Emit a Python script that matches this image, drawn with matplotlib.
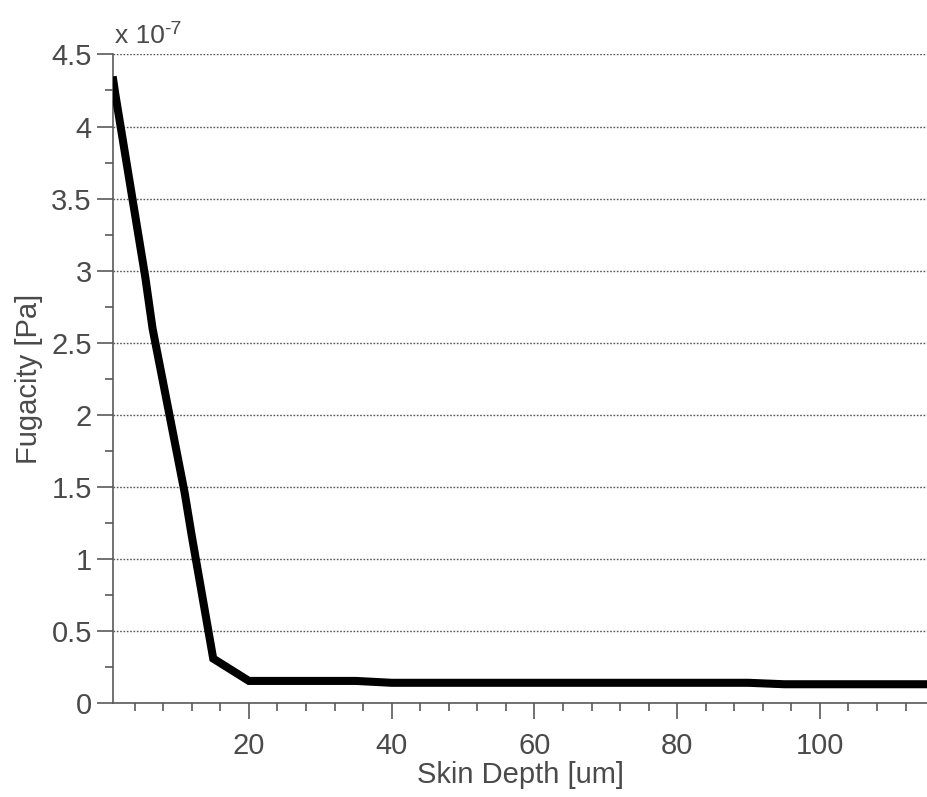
import matplotlib
matplotlib.use("Agg")
import matplotlib.pyplot as plt
from matplotlib.ticker import MultipleLocator, FormatStrFormatter

# ---- data (fugacity in units of 1e-7 Pa) ------------------------------
depth_um = [1, 1.3, 5.5, 6.5, 11, 12, 15, 20, 35, 40, 90, 95, 115]
fugacity_e7 = [4.32, 4.22, 2.95, 2.60, 1.46, 1.16, 0.31, 0.155, 0.155,
               0.142, 0.142, 0.132, 0.132]

y_ticks = [0, 0.5, 1, 1.5, 2, 2.5, 3, 3.5, 4, 4.5]
x_ticks = [20, 40, 60, 80, 100]

TXT = "#4a4a4a"
AXC = "#5a5a5a"
FS = 21

plt.rcParams['font.family'] = ['Liberation Sans', 'DejaVu Sans']

fig = plt.figure(figsize=(9.27, 7.97), dpi=100)
ax = fig.add_axes([0.1222, 0.1176, 0.8778, 0.8141])

ax.plot(depth_um, fugacity_e7, color='black', linewidth=5.8,
        solid_joinstyle='miter', zorder=3)

ax.set_xlim(1, 115)
ax.set_ylim(0, 4.5)
ax.set_xticks(x_ticks)
ax.set_yticks(y_ticks)
ax.xaxis.set_minor_locator(MultipleLocator(4))
ax.yaxis.set_minor_locator(MultipleLocator(0.25))
ax.yaxis.set_major_formatter(FormatStrFormatter('%g'))

for s in ['top', 'right']:
    ax.spines[s].set_visible(False)
for s in ['left', 'bottom']:
    ax.spines[s].set_color(AXC)
    ax.spines[s].set_linewidth(1.2)

ax.tick_params(axis='both', which='both', direction='out', color=AXC,
               width=1.2, labelcolor=TXT, labelsize=FS)
ax.tick_params(axis='both', which='major', length=11.5)
ax.tick_params(axis='both', which='minor', length=5.5)
ax.tick_params(axis='x', which='major', pad=9)
ax.tick_params(axis='y', which='major', pad=4)

ax.yaxis.grid(True, which='major', linestyle=(0, (1.2, 1.2)),
              color='#555555', linewidth=1.0)
ax.set_axisbelow(True)

ax.set_xlabel("Skin Depth [um]", fontsize=FS, color=TXT, labelpad=1)
ax.set_ylabel("Fugacity [Pa]", fontsize=FS, color=TXT, labelpad=6)

# exponent marker drawn as plain text, MATLAB style (hyphen, not minus)
ax.text(0.002, 1.017, "x 10", transform=ax.transAxes,
        fontsize=19, color=TXT, ha='left', va='baseline')
ax.text(0.062, 1.032, "-7", transform=ax.transAxes,
        fontsize=14, color=TXT, ha='left', va='baseline')

fig.savefig("out.png", dpi=100)
